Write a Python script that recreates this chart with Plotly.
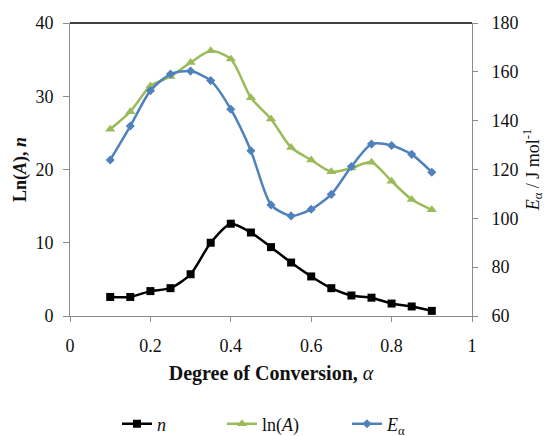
import plotly.graph_objects as go

alpha = [0.1, 0.15, 0.2, 0.25, 0.3, 0.35, 0.4, 0.45, 0.5, 0.55, 0.6, 0.65, 0.7, 0.75, 0.8, 0.85, 0.9]
n_vals = [2.6, 2.6, 3.4, 3.8, 5.7, 10.0, 12.6, 11.4, 9.4, 7.3, 5.4, 3.8, 2.8, 2.5, 1.7, 1.3, 0.7]
lnA_vals = [25.5, 27.9, 31.4, 32.7, 34.6, 36.2, 35.1, 29.8, 26.9, 23.0, 21.3, 19.7, 20.2, 21.0, 18.4, 15.9, 14.5]
E_vals = [123.9, 137.8, 152.3, 159.1, 160.3, 156.4, 144.7, 127.7, 105.5, 101.0, 103.7, 109.8, 121.2, 130.4, 129.8, 126.2, 118.9]

x_ticks = [0, 0.2, 0.4, 0.6, 0.8, 1]
x_tick_labels = ["0", "0.2", "0.4", "0.6", "0.8", "1"]
y_left_ticks = [0, 10, 20, 30, 40]
y_right_ticks = [60, 80, 100, 120, 140, 160, 180]

W, H = 555, 436
L, R, T, B = 70, 83, 23, 120
pw, ph = W - L - R, H - T - B

def px_x(p):
    return (p - L) / pw

def px_y(p):
    return (H - B - p) / ph

serif = "Liberation Serif"
black = "#000000"
green = "#9BBB59"
blue = "#4F81BD"
txt = "#111111"

fig = go.Figure()
fig.add_trace(go.Scatter(x=alpha, y=n_vals, name="<i>n</i>", mode="lines+markers",
                         line=dict(color=black, width=2.5, shape="spline", smoothing=0.7),
                         marker=dict(symbol="square", size=8, color=black),
                         legend="legend"))
fig.add_trace(go.Scatter(x=alpha, y=lnA_vals, name="ln(<i>A</i>)", mode="lines+markers",
                         line=dict(color=green, width=2.5, shape="spline", smoothing=0.7),
                         marker=dict(symbol="triangle-up", size=9, color=green),
                         legend="legend2"))
fig.add_trace(go.Scatter(x=alpha, y=E_vals, name="<i>E</i><sub>α</sub>", mode="lines+markers",
                         line=dict(color=blue, width=2.5, shape="spline", smoothing=0.7),
                         marker=dict(symbol="diamond", size=7, color=blue),
                         legend="legend3", yaxis="y2"))

axis_font = dict(family=serif, size=18, color=txt)
leg_common = dict(orientation="h", yanchor="middle", y=px_y(424), xanchor="left",
                  font=dict(family=serif, size=18, color=txt),
                  bgcolor="rgba(0,0,0,0)", itemwidth=30)

fig.update_layout(
    width=W, height=H,
    margin=dict(l=L, r=R, t=T, b=B, autoexpand=False),
    paper_bgcolor="white", plot_bgcolor="white",
    showlegend=True,
    xaxis=dict(range=[0, 1], tickvals=x_ticks, ticktext=x_tick_labels,
               showgrid=False, zeroline=False, showline=True, linecolor="#8c8c8c", linewidth=1,
               ticks="outside", ticklen=5, tickcolor="#8c8c8c", ticklabelstandoff=8,
               tickfont=axis_font,
               title=dict(text="<b>Degree of Conversion, </b><i>α</i>",
                          font=dict(family=serif, size=20, color=txt), standoff=11)),
    yaxis=dict(range=[0, 40], tickvals=y_left_ticks, showgrid=False, zeroline=False,
               showline=True, linecolor="#8c8c8c", linewidth=1,
               ticks="outside", ticklen=6, tickcolor="#8c8c8c", ticklabelstandoff=6,
               tickfont=axis_font,
               title=dict(text="<b>Ln(<i>A</i>), <i>n</i></b>",
                          font=dict(family=serif, size=18, color=txt), standoff=4)),
    yaxis2=dict(range=[60, 180], tickvals=y_right_ticks, overlaying="y", side="right",
                showgrid=False, zeroline=False, showline=True, linecolor="#8c8c8c", linewidth=1,
                ticks="outside", ticklen=5, tickcolor="#8c8c8c", ticklabelstandoff=10,
                tickfont=axis_font,
                title=dict(text="<i>E</i><sub>α</sub> / J mol<sup>-1</sup>",
                           font=dict(family=serif, size=18, color=txt), standoff=8)),
    legend=dict(x=px_x(117), **leg_common),
    legend2=dict(x=px_x(222), **leg_common),
    legend3=dict(x=px_x(347), **leg_common),
    shapes=[dict(type="line", xref="paper", yref="paper", x0=0, x1=1, y0=1, y1=1,
                 line=dict(color="black", width=1.5))],
)

fig.write_html("out.html")
